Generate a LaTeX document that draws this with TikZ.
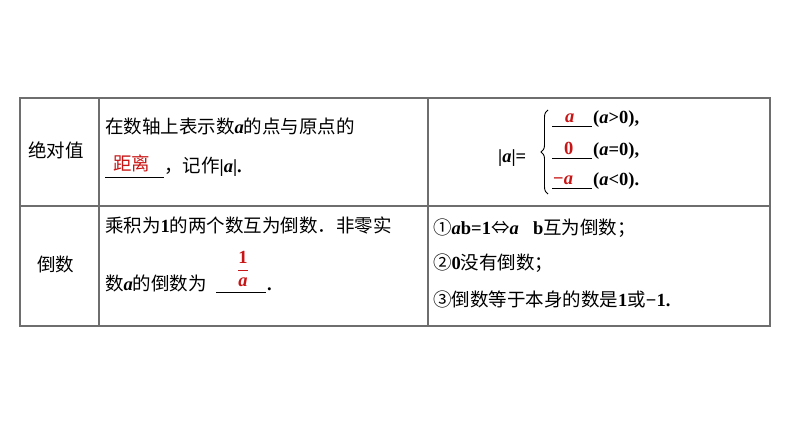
\documentclass[tikz,border=0pt]{standalone}
\usepackage{fontspec}
\usetikzlibrary{decorations.pathreplacing}
\setmainfont{Liberation Serif}
\newfontfamily\cjk{Noto Sans CJK SC}
\definecolor{ans}{RGB}{200,20,20}
\definecolor{rule}{RGB}{110,110,110}
\begin{document}
\begin{tikzpicture}[x=1pt,y=-1pt,
  txt/.style={anchor=base west,inner sep=0pt,font=\fontsize{18.5}{22}\selectfont},
  anscol/.style={text=ans},
  grid/.style={draw=rule,line width=1.4pt}]
\useasboundingbox (0,0) rectangle (794,446);
\draw[grid] (20,98) rectangle (770,326);
\draw[grid] (20,206) -- (770,206);
\draw[grid] (99,98) -- (99,326);
\draw[grid] (428,98) -- (428,326);
\newcommand{\bb}[1]{{\rmfamily\bfseries #1}}
\newcommand{\ba}{{\rmfamily\bfseries\itshape a}}
% row 1
\node[txt] (h1) at (28,158) {\cjk 绝对值};
\node[txt] (t1) at (105,134) {\cjk 在数轴上表示数\ba 的点与原点的};
\draw (105,177) -- (164,177);
\node[txt,anscol] (r1) at (113,171) {\cjk 距离};
\node[txt] (t2) at (164,173) {\cjk ，记作\bb{|}\ba\bb{|}\bb{.}};
% abs
\coordinate (bt) at (548,110);
\coordinate (bb) at (548,194);
\draw[line width=0.9pt,decorate,decoration={brace,amplitude=7pt,raise=0pt}] (bb) -- (bt);
\node[txt] (abs) at (498,163) {\bb{|}\ba\bb{|}\bb{=}};
\draw (552,126) -- (592,126);
\draw (552,158) -- (592,158);
\draw (552,188) -- (592,188);
\node[txt,anscol] (c1) at (565,123) {\ba};
\node[txt,anscol] (c2) at (564,155) {\bb{0}};
\node[txt,anscol] (c3) at (553,185) {\bb{−}\ba};
\node[txt] (d1) at (593,124) {\bb{(}\ba\bb{>0),}};
\node[txt] (d2) at (593,156) {\bb{(}\ba\bb{=0),}};
\node[txt] (d3) at (593,186) {\bb{(}\ba\bb{<0).}};
% row 2
\node[txt] (h2) at (37,271) {\cjk 倒数};
\node[txt] (t3) at (105,233) {\cjk 乘积为\bb{1}的两个数互为倒数．非零实};
\node[txt] (t4) at (105,290) {\cjk 数\ba 的倒数为};
\draw (216,292) -- (266,292);
\node[anscol,inner sep=0pt] (fr) at (243,269) {\fontsize{18.5}{22}\selectfont$\displaystyle\frac{\hbox{\bb{1}}}{\hbox{\ba}}$};
\node[txt] (dot) at (267,290) {\bb{.}};
\node[txt] (p1) at (433,234) {\cjk ①\ba\bb{b=1}⇔\ba\bb{，b}互为倒数；};
\node[txt] (p2) at (433,269) {\cjk ②\bb{0}没有倒数；};
\node[txt] (p3) at (433,306) {\cjk ③倒数等于本身的数是\bb{1}或\bb{−1.}};
\end{tikzpicture}
\end{document}
